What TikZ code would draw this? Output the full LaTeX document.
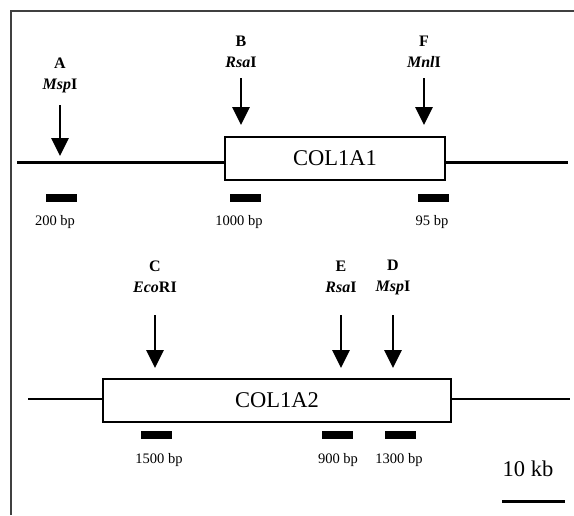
\documentclass[tikz,border=0pt]{standalone}
\usepackage{fontspec}
\setmainfont{Liberation Serif}
\usetikzlibrary{arrows.meta}

\begin{document}
\begin{tikzpicture}[
  x=1pt, y=-1pt,
  gene/.style={draw, line width=2.6pt, fill=white, minimum height=43pt,
               inner sep=0pt, font=\fontsize{22.5}{24}\selectfont},
  dna/.style={line width=2.8pt},
  cut/.style={-{Triangle[width=17pt,length=18pt]}, line width=2.8pt},
  site/.style={align=center, font=\fontsize{16}{21}\selectfont\bfseries},
  probe/.style={fill=black, minimum width=31pt, minimum height=8pt, inner sep=0pt},
  size/.style={font=\fontsize{14.5}{16}\selectfont},
]
\useasboundingbox (0,0) rectangle (574,515);
\draw[line width=1.2pt, black!75] (11,515) -- (11,11) -- (574,11);

% COL1A1
\node[gene, minimum width=220pt] (col1) at (335,158.5) {COL1A1};
\coordinate (w1) at (17,162.5);
\coordinate (e1) at (568,162.5);
\draw[dna] (w1) -- (w1 -| col1.west);
\draw[dna] (col1.east |- e1) -- (e1);

\node[site] (sA) at (60,75) {A\\\textit{Msp}I};
\node[site] (sB) at (241,52) {B\\\textit{Rsa}I};
\node[site] (sF) at (424,52) {F\\\textit{Mnl}I};
\coordinate (a0) at (60,105);  \coordinate (a1) at (60,156);
\coordinate (b0) at (241,78);  \coordinate (b1) at (241,125);
\coordinate (f0) at (424,78);  \coordinate (f1) at (424,125);
\draw[cut] (a0) -- (a1);
\draw[cut] (b0) -- (b1);
\draw[cut] (f0) -- (f1);

\node[probe] (pA) at (61.5,198) {};
\node[probe] (pB) at (245,198) {};
\node[probe] (pF) at (433,198) {};
\node[size] (bA) at (55,222) {200 bp};
\node[size] (bB) at (239,222) {1000 bp};
\node[size] (bF) at (432,222) {95 bp};

% COL1A2
\node[gene, minimum width=348pt] (col2) at (277,400.5) {COL1A2};
\coordinate (w2) at (28,399);
\coordinate (e2) at (570,399);
\draw[dna] (w2) -- (w2 -| col2.west);
\draw[dna] (col2.east |- e2) -- (e2);

\node[site] (sC) at (155,277) {C\\\textit{Eco}RI};
\node[site] (sE) at (341,277) {E\\\textit{Rsa}I};
\node[site] (sD) at (393,277) {D\\\textit{Msp}I};
\coordinate (c0) at (155,315);  \coordinate (c1) at (155,368);
\coordinate (e0) at (341,315);  \coordinate (e1) at (341,368);
\coordinate (d0) at (393,315);  \coordinate (d1) at (393,368);
\draw[cut] (c0) -- (c1);
\draw[cut] (e0) -- (e1);
\draw[cut] (d0) -- (d1);

\node[probe] (pC) at (156,435) {};
\node[probe] (pE) at (337,435) {};
\node[probe] (pD) at (400,435) {};
\node[size] (bC) at (159,460) {1500 bp};
\node[size] (bE) at (338,460) {900 bp};
\node[size] (bD) at (399,460) {1300 bp};

% scale
\node[font=\fontsize{22.5}{24}\selectfont] (kb) at (528,469) {10 kb};
\coordinate (s0) at (502,501);
\coordinate (s1) at (565,501);
\draw[line width=3pt] (s0) -- (s1);
\end{tikzpicture}
\end{document}
